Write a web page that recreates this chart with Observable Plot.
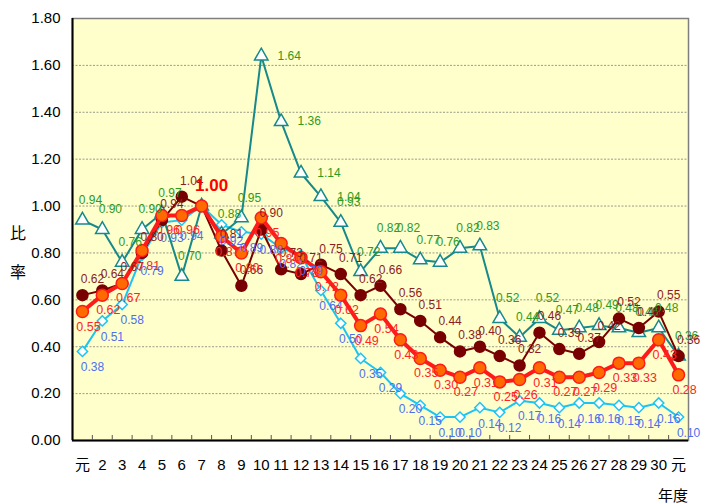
<!DOCTYPE html>
<html><head><meta charset="utf-8">
<script src="https://cdn.jsdelivr.net/npm/d3@7"></script>
<script src="https://cdn.jsdelivr.net/npm/@observablehq/plot@0.6"></script>
<style>
body{margin:0;background:#fff;font-family:"Liberation Sans","Noto Sans CJK JP",Arial,sans-serif;}
#chart svg{display:block}
</style>
</head><body><div id="chart"></div>
<script>
const years = ["元","2","3","4","5","6","7","8","9","10","11","12","13","14","15","16","17","18","19","20","21","22","23","24","25","26","27","28","29","30","元"];
const tealSeries   = [0.94,0.90,0.76,0.90,0.97,0.70,1.00,0.88,0.95,1.64,1.36,1.14,1.04,0.93,0.72,0.82,0.82,0.77,0.76,0.82,0.83,0.52,0.44,0.52,0.47,0.48,0.49,0.48,0.46,0.48,0.36];
const maroonSeries = [0.62,0.64,0.67,0.80,0.94,1.04,1.00,0.81,0.66,0.90,0.73,0.71,0.75,0.71,0.62,0.66,0.56,0.51,0.44,0.38,0.40,0.36,0.32,0.46,0.39,0.37,0.42,0.52,0.48,0.55,0.36];
const redSeries    = [0.55,0.62,0.67,0.81,0.96,0.96,1.00,0.87,0.80,0.95,0.84,0.78,0.72,0.62,0.49,0.54,0.43,0.35,0.30,0.27,0.31,0.25,0.26,0.31,0.27,0.27,0.29,0.33,0.33,0.43,0.28];
const blueSeries   = [0.38,0.51,0.58,0.79,0.93,0.94,1.00,0.92,0.89,0.88,0.82,0.79,0.64,0.50,0.35,0.29,0.20,0.15,0.10,0.10,0.14,0.12,0.17,0.16,0.14,0.16,0.16,0.15,0.14,0.16,0.10];
const yTicks = [0,0.2,0.4,0.6,0.8,1.0,1.2,1.4,1.6,1.8];

const rows = vals => vals.map((v, i) => ({i, v}));
const teal = rows(tealSeries), maroon = rows(maroonSeries), red = rows(redSeries), blue = rows(blueSeries);
const redMax = d3.max(redSeries);
const baseIdx = redSeries.indexOf(redMax);          // base year (= 1.00), labelled once in bold
const notBase = d => d.i !== baseIdx;
const idx = d3.range(years.length);
const bounds = d3.range(years.length - 1).map(i => i + 0.5);
const fmt = d => d.v.toFixed(2);

const C = {teal:"#17898a", maroon:"#780000", red:"#ff1a1a", orange:"#ff6a00", blue:"#1cc4f2",
           tGreen:"#2e9a1e", tMaroon:"#8b1d1d", tRed:"#ff2424", tBlue:"#4d6ff0"};

const tealHigh = teal.filter(d => notBase(d) && d.v > 1.0);
const tealRest = teal.filter(d => notBase(d) && d.v <= 1.0);

const chart = Plot.plot({
  width: 706, height: 504,
  marginLeft: 72, marginRight: 18, marginTop: 18, marginBottom: 64,
  style: {fontFamily: '"Liberation Sans","Noto Sans CJK JP",Arial,sans-serif', background: "#fff", color: "#000"},
  x: {type: "linear", domain: [-0.5, years.length - 0.5], axis: null},
  y: {domain: [0, 1.8], axis: null},
  marks: [
    Plot.frame({fill: "#ffffcc", stroke: "#7f7f7f", strokeWidth: 1.5}),
    Plot.gridY(yTicks.slice(1, -1), {stroke: "#9a9a8a", strokeOpacity: 1, strokeDasharray: "2,1.5"}),
    Plot.ruleY([0], {stroke: "#000", strokeWidth: 2}),
    Plot.ruleX([-0.5], {stroke: "#000", strokeWidth: 2}),
    Plot.axisX(bounds, {tickSize: -5, tickFormat: () => "", stroke: "#555", label: null}),
    Plot.axisX(idx, {tickSize: 0, tickPadding: 19, tickFormat: i => years[i], fontSize: 15, label: null}),
    Plot.axisY(yTicks, {tickSize: 0, tickPadding: 12, tickFormat: d => d.toFixed(2), fontSize: 15, label: null}),

    Plot.line(blue, {x: "i", y: "v", stroke: C.blue, strokeWidth: 2}),
    Plot.dot(blue, {x: "i", y: "v", symbol: "diamond2", r: 4.6, fill: "#fff", stroke: C.blue, strokeWidth: 1.5}),
    Plot.line(teal, {x: "i", y: "v", stroke: C.teal, strokeWidth: 2}),
    Plot.dot(teal, {x: "i", y: "v", symbol: "triangle", r: 5, fill: "#fff", stroke: C.teal, strokeWidth: 1.5}),
    Plot.line(maroon, {x: "i", y: "v", stroke: C.maroon, strokeWidth: 2}),
    Plot.dot(maroon, {x: "i", y: "v", r: 5.5, fill: C.maroon, stroke: C.maroon}),
    Plot.line(red, {x: "i", y: "v", stroke: C.red, strokeWidth: 4}),
    Plot.dot(red, {x: "i", y: "v", r: 6, fill: C.orange, stroke: C.red, strokeWidth: 1.5}),

    Plot.text(tealRest, {x: "i", y: "v", text: fmt, dx: 8, dy: -20, fill: C.tGreen, fontSize: 12}),
    Plot.text(tealHigh, {x: "i", y: "v", text: fmt, dx: 28, dy: 0, fill: C.tGreen, fontSize: 12}),
    Plot.text(maroon.filter(notBase), {x: "i", y: "v", text: fmt, dx: 10, dy: -16, fill: C.tMaroon, fontSize: 12}),
    Plot.text(blue.filter(notBase), {x: "i", y: "v", text: fmt, dx: 10, dy: 16, fill: C.tBlue, fontSize: 12}),
    Plot.text(red.filter(notBase), {x: "i", y: "v", text: fmt, dx: 6, dy: 15, fill: C.tRed, fontSize: 12.5}),
    Plot.text(red.filter(d => !notBase(d)), {x: "i", y: "v", text: fmt, dx: 10, dy: -21, fill: "#ff0000", fontSize: 17, fontWeight: "bold"})
  ]
});

const svg = d3.select(chart);
const cjk = '"Noto Sans CJK JP","Liberation Sans",sans-serif';
svg.append("text").attr("x", 18).attr("y", 239).attr("text-anchor", "middle").attr("font-size", 16).attr("font-family", cjk).text("比");
svg.append("text").attr("x", 18).attr("y", 278).attr("text-anchor", "middle").attr("font-size", 16).attr("font-family", cjk).text("率");
svg.append("text").attr("x", 688).attr("y", 501).attr("text-anchor", "end").attr("font-size", 15).attr("font-family", cjk).text("年度");

document.getElementById("chart").appendChild(chart);
</script>
</body></html>
